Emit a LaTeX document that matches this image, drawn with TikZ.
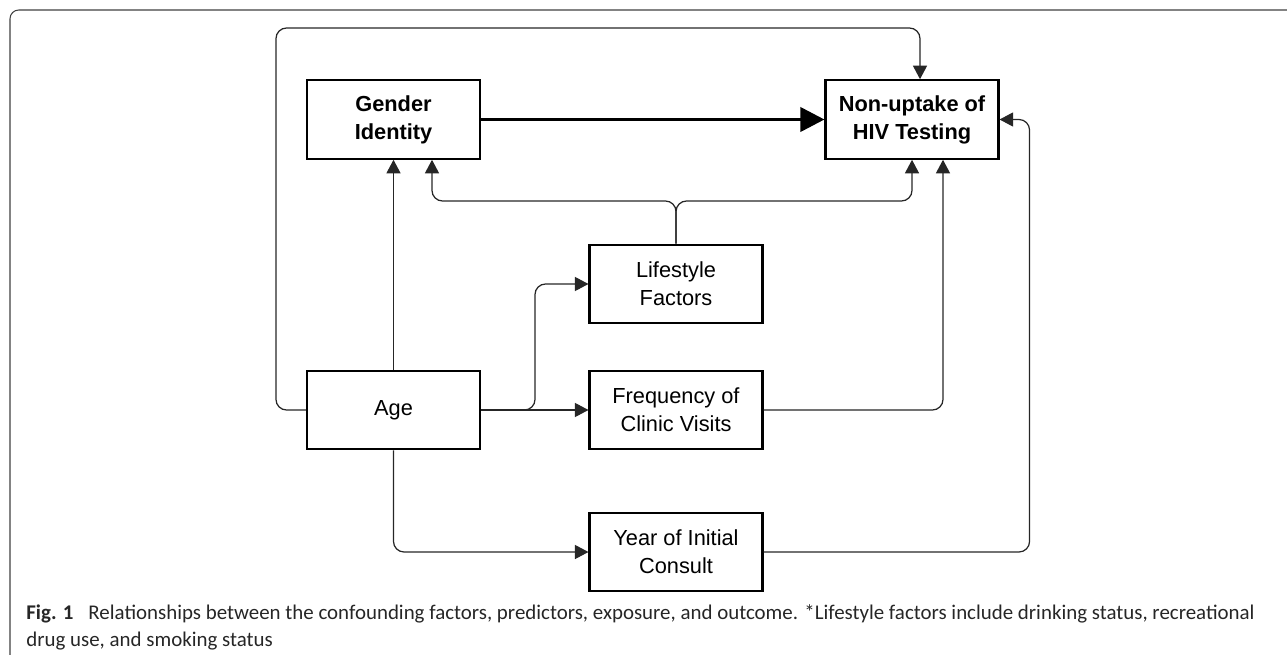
\documentclass[tikz,border=0pt]{standalone}
\usepackage{fontspec}
\setmainfont{Liberation Sans}
\newfontfamily\capfont{Carlito}
\usepackage{tikz}
\usetikzlibrary{arrows.meta,positioning}

\begin{document}
\begin{tikzpicture}[x=0.02cm,y=-0.02cm,
  box/.style={draw,line width=1.2pt,minimum width=3.46cm,minimum height=1.57cm,inner sep=2pt,
    align=center,font=\fontsize{12.4}{16}\selectfont},
  boxb/.style={box,font=\fontsize{12.4}{16}\selectfont\bfseries},
  arr/.style={-{Triangle[length=2.7mm,width=2.8mm]},line width=0.7pt,draw=black!85,rounded corners=6pt},
  arrb/.style={-{Triangle[length=4.8mm,width=4.8mm]},line width=2.1pt},
  figcap/.style={font=\capfont\fontsize{11.9}{15}\selectfont,text=black!85,anchor=base west,inner sep=0pt}]
  \useasboundingbox (0,0) rectangle (1287,655);
  % frame of the figure
  \draw[black!75,line width=0.6pt,rounded corners=5pt] (1295,10) -- (10,10) -- (10,665);
  % boxes
  \node[boxb] (gid)  at (393.5,119.5) {Gender\\Identity};
  \node[boxb] (hiv)  at (912,119.5)   {Non-uptake of\\HIV Testing};
  \node[box]  (life) at (676,284)     {Lifestyle\\Factors};
  \node[box]  (age)  at (393.5,410)   {Age};
  \node[box]  (freq) at (676,410)     {Frequency of\\Clinic Visits};
  \node[box]  (year) at (676,552)     {Year of Initial\\Consult};
  \coordinate (fork)  at (676,201);
  \coordinate (split) at (535,410);
  % connectors
  \draw[arrb] (gid) -- (hiv);
  \draw[arr] (age.west) -| (276,28) -| ([xshift=0.16cm]hiv.north);
  \draw[arr] (age.north) -- (gid.south);
  \draw[arr] (life.north) -- (fork) -| ([xshift=0.77cm]gid.south);
  \draw[arr] (life.north) -- (fork) -| (hiv.south);
  \draw[arr] (age.east) -- (freq.west);
  \draw[arr] (age.east) -- (split) |- (life.west);
  \draw[arr] (freq.east) -| ([xshift=0.62cm]hiv.south);
  \draw[arr] (age.south) |- (year.west);
  \draw[arr] (year.east) -| ([xshift=0.6cm]hiv.east) -- (hiv.east);
  % caption
  \node[figcap] (cap1) at (26,619) {\textbf{Fig. 1}\hspace{0.3cm}Relationships between the confounding factors, predictors, exposure, and outcome. *Lifestyle factors include drinking status, recreational};
  \node[figcap] (cap2) at (26,646) {drug use, and smoking status};
\end{tikzpicture}
\end{document}
